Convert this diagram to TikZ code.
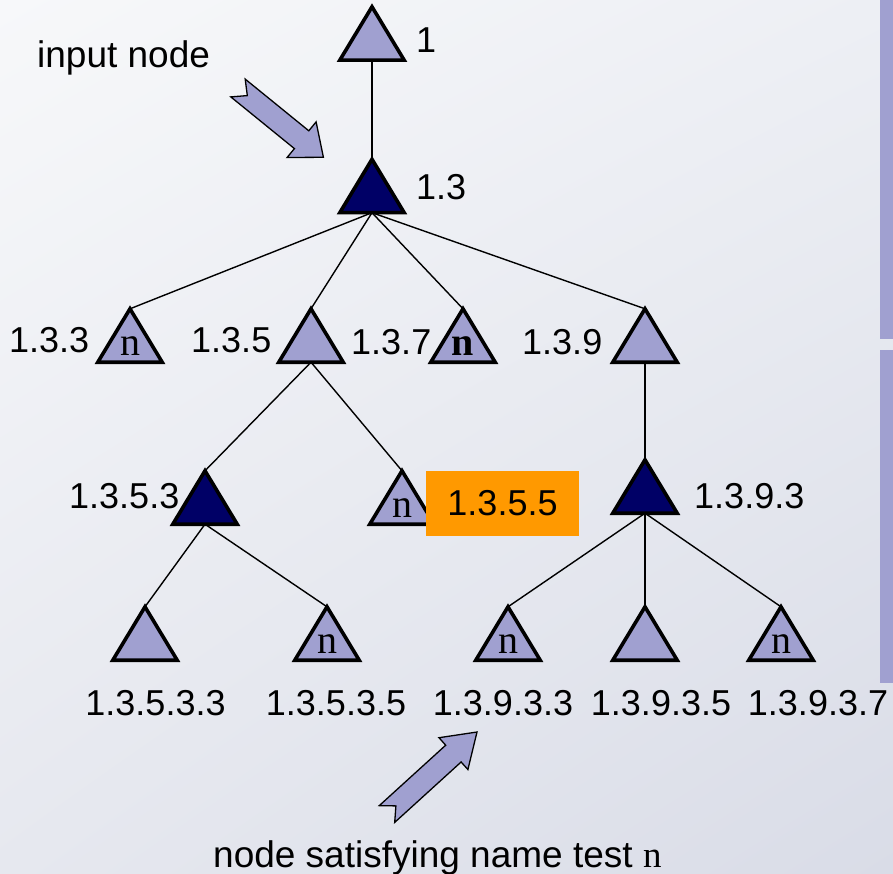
\documentclass[tikz,border=0pt]{standalone}
\usepackage{fontspec}
\usetikzlibrary{shadings}
\setmainfont{Liberation Sans}
\newfontfamily\serifn{Liberation Serif}
\definecolor{lav}{HTML}{A0A0D0}
\definecolor{darktri}{HTML}{000066}
\definecolor{orng}{HTML}{FF9900}
\definecolor{bgA}{HTML}{F7F8FA}
\definecolor{bgB}{HTML}{EDEFF4}
\definecolor{bgC}{HTML}{E6E8EF}
\definecolor{bgD}{HTML}{D9DCE7}
\tikzset{
  tri/.style={rectangle, minimum width=64pt, minimum height=53pt, inner sep=0pt,
              text height=39pt, text depth=0pt, font=\serifn\fontsize{40}{40}\selectfont},
  lbl/.style={anchor=base west, inner sep=0pt, font=\fontsize{36}{40}\selectfont},
  biglbl/.style={anchor=base west, inner sep=0pt, font=\fontsize{37}{40}\selectfont},
  clbl/.style={anchor=base, inner sep=0pt, font=\fontsize{36}{40}\selectfont},
  edge/.style={line width=1.4pt},
  trioutline/.style={draw=black, line width=3.6pt, line join=miter},
  blockarrow/.style={fill=lav, draw=black, line width=1.3pt, line join=miter},
  hilite/.style={rectangle, fill=orng, minimum width=153pt, minimum height=65pt, inner sep=0pt,
                 font=\fontsize{36}{40}\selectfont}
}
\begin{document}
\begin{tikzpicture}[x=1pt,y=-1pt]
\useasboundingbox (0,0) rectangle (893,874);
\shade[upper left=bgA, upper right=bgB, lower left=bgC, lower right=bgD] (0,0) rectangle (893,874);
\fill[lav] (880,0) rectangle (893,339);
\fill[lav] (880,350) rectangle (893,683);

% triangle nodes
\node[tri] (t1)     at (372,33.5) {};
\node[tri] (t13)    at (372,186) {};
\node[tri] (t133)   at (130,335.5) {};
\node[tri] (t135)   at (311,335.5) {};
\node[tri] (t137)   at (463,335.5) {};
\node[tri] (t139)   at (645,335.5) {};
\node[tri] (t1353)  at (205,497.5) {};
\node[tri] (t1355)  at (402,497.5) {};
\node[tri] (t1393)  at (645,486.5) {};
\node[tri] (t13533) at (145,633.5) {};
\node[tri] (t13535) at (327,633.5) {};
\node[tri] (t13933) at (508,633.5) {};
\node[tri] (t13935) at (645,633.5) {};
\node[tri] (t13937) at (781,633.5) {};

% connectors
\draw[edge] (t1.south) -- (t13.north);
\foreach \c in {t133,t135,t137,t139} \draw[edge] (t13.south) -- (\c.north);
\foreach \c in {t1353,t1355} \draw[edge] (t135.south) -- (\c.north);
\draw[edge] (t139.south) -- (t1393.north);
\foreach \c in {t13533,t13535} \draw[edge] (t1353.south) -- (\c.north);
\foreach \c in {t13933,t13935,t13937} \draw[edge] (t1393.south) -- (\c.north);

% triangle shapes
\foreach \t in {t1,t133,t135,t137,t139,t1355,t13533,t13535,t13933,t13935,t13937}
  \draw[trioutline, fill=lav] (\t.south west) -- (\t.north) -- (\t.south east) -- cycle;
\foreach \t in {t13,t1353,t1393}
  \draw[trioutline, fill=darktri] (\t.south west) -- (\t.north) -- (\t.south east) -- cycle;
% name-test letters
\foreach \t in {t133,t1355,t13535,t13933,t13937}
  \node[tri] (n\t) at (\t) {n};
\node[tri] (nt137) at (t137) {\bfseries n};

% labels
\node[lbl] (l1)    at (416,53)  {1};
\node[lbl] (l13)   at (416,200) {1.3};
\node[biglbl] (in) at (37,68)   {input node};
\node[lbl] (l133)  at (9,352)   {1.3.3};
\node[lbl] (l135)  at (191,352) {1.3.5};
\node[lbl] (l137)  at (351,354) {1.3.7};
\node[lbl] (l139)  at (522,354) {1.3.9};
\node[lbl] (l1353) at (69,508)  {1.3.5.3};
\node[lbl] (l1393) at (694,508) {1.3.9.3};
\node[hilite] (l1355) at (502.5,503.5) {1.3.5.5};
\node[clbl] (l13533) at (155.5,715) {1.3.5.3.3};
\node[clbl] (l13535) at (336,715)   {1.3.5.3.5};
\node[clbl] (l13933) at (503,715)   {1.3.9.3.3};
\node[clbl] (l13935) at (661,715)   {1.3.9.3.5};
\node[clbl] (l13937) at (818,715)   {1.3.9.3.7};
\node[biglbl] (sat) at (213,867) {node satisfying name test {\serifn n}};

% block arrows
\draw[blockarrow] (230.8,96.9) -- (247.3,95.6) -- (245.2,79.1) -- (308.8,130.8) -- (316.1,121.9)
  -- (323.4,157.3) -- (287.1,157.5) -- (294.4,148.6) -- cycle;
\draw[blockarrow] (394.7,822.4) -- (395.9,805.9) -- (379.3,805.6) -- (445.7,745.2) -- (439,737.7)
  -- (477,732) -- (467.9,769.5) -- (461.1,762) -- cycle;
\end{tikzpicture}
\end{document}
